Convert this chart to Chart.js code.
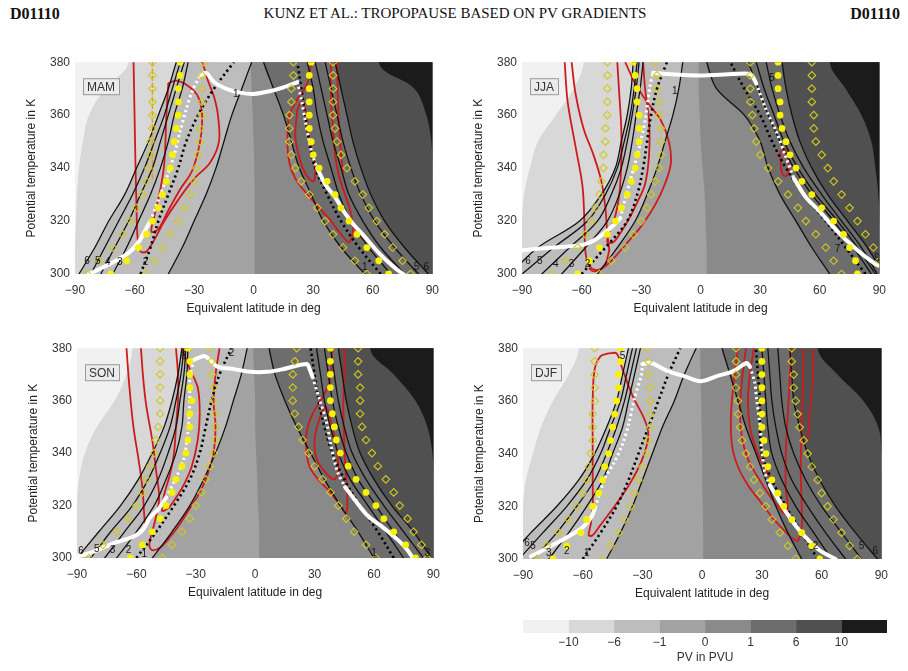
<!DOCTYPE html>
<html><head><meta charset="utf-8">
<script src="https://cdn.jsdelivr.net/npm/chart.js@4.4.1/dist/chart.umd.min.js"></script>
<style>
body{margin:0;background:#fff;}
#page{position:relative;width:908px;height:671px;overflow:hidden;background:#fff;}
canvas{position:absolute;}
.hdr{position:absolute;top:5px;font-family:'Liberation Serif','Times New Roman',serif;color:#111;white-space:nowrap;}
</style></head><body><div id="page">
<div class="hdr" style="left:10px;font-weight:bold;font-size:16px">D01110</div>
<div class="hdr" style="left:0;width:910px;text-align:center;font-size:15px">KUNZ ET AL.: TROPOPAUSE BASED ON PV GRADIENTS</div>
<div class="hdr" style="right:8px;font-weight:bold;font-size:16px">D01110</div>
<canvas id="cMAM" width="428" height="270" style="left:20px;top:50px"></canvas>
<canvas id="cJJA" width="428" height="270" style="left:467px;top:50px"></canvas>
<canvas id="cSON" width="427" height="268" style="left:22px;top:336px"></canvas>
<canvas id="cDJF" width="429" height="269" style="left:468px;top:336px"></canvas>
<canvas id="cBar" width="390" height="61" style="left:510px;top:610px"></canvas>
</div>
<script>
// ---------- shared axes / legend ----------
const thetaLevels = [300,310,320,330,340,350,360,370,380];
const thetaMarks = [300,305,310,315,320,325,330,335,340,345,350,355,360,365,370,375,380];
const latTicks = [-90,-60,-30,0,30,60,90];
const thetaTicks = [300,320,340,360,380];
const pvTickLabels = ['\u221210','\u22126','\u22121','0','1','6','10'];
const pvBandColors = ['#f1f1f1','#d8d8d8','#bdbdbd','#a2a2a2','#8a8a8a','#6d6d6d','#505050','#1b1b1b'];

// ---------- MAM ----------
const mamNeg = [
 [-88,-80,-73,-65,-59,-53,-48,-43,-39],
 [-82,-75,-68,-61,-55,-50,-45,-41,-37],
 [-77,-70,-63,-57,-51,-47,-43,-39,-35],
 [-71,-64,-58,-52,-47,-43,-40,-36,-33],
 [-57,-52,-48,-43,-38,-34,-28,-20,-10],
 [-43,-36,-30,-24,-19,-15,-11,-6,-1]];
const mamPos = [
 [56,44,35,29,23,19,15,10,5],
 [64,53,44,37,31,28,26,24,22],
 [69,58,49,43,39,35,32,30,27],
 [76,64,55,48,44,40,37,34,31],
 [83,71,61,54,49,45,42,39,36],
 [88,76,66,59,54,50,47,44,41]];
const mamEdges = [
 [-90,-90,-89.5,-89,-88,-86,-83,-75,-63],
 [0.5,0.5,0.5,0.5,0.3,0,-0.5,-1,-1.5],
 [90,90,90,90,90,89.5,87,81,63]];
const mamTropSolid = [
 [[-83,300],[-72,304],[-63,308],[-58,312],[-55,316],[-52,320]],
 [[-27,375],[-24,376],[-20,372.5],[-14,370],[-7,368.5],[0,368],[8,369],[15,370.5],[22,372.5]],
 [[32,340],[36,334],[41,329],[46,323],[50,319],[56,314],[63,308],[70,303],[77,299]]];
const mamTropDotted = [
 [[-52,320],[-48,328],[-44,336],[-40,345],[-37,354],[-34,362],[-31,369],[-27,375]],
 [[22,372.5],[24,366],[26,358],[28,350],[30,344],[32,340]]];
const mamDotsS = [-72,-64,-58,-54,-51,-48,-46,-44,-42,-41,-40,-39,-38,-38,-38,-37,-37];
const mamDotsN = [68,63,57,52,48,44,41,37,33,30,29,28,28,28,28,28,29];
const mamDiamonds = [
 [-84,-78,-71,-66,-62,-59,-56,-54,-53,-52,-52,-51,-51,-51,-51,-51,-51],
 [-54,-50,-46,-42,-38,-35,-32,-30,-29,-28,-27,-27,-26,-26,-26,-26,-25],
 [57,51,45,40,36,32,28,24,21,19,18,18,18,19,19,20,20],
 [79,75,70,66,62,58,55,51,47,44,42,41,40,40,40,40,40]];
const mamRed = [
 [[-60.5,380],[-60,360],[-59.5,340],[-59,325],[-58.5,314],[-57,308.5],[-54,308.5],[-50,313],[-45,320],[-38,328],[-30,336],[-22,342],[-17.5,350],[-18,360],[-20,367],[-23,373],[-25,378],[-26,380]],
 [[-43,372],[-44,359],[-45,342],[-47,332],[-50,322],[-51.5,316],[-48,317],[-43,324],[-37,332],[-31,339],[-27,350],[-26,360],[-28,367],[-33,371],[-39,373],[-43,372]],
 [[29,380],[27,372],[22,366],[18,360],[17,350],[18,342],[21,336],[26,331],[33,325],[39,320],[44,315],[48,312],[50,316],[49,323],[46,330],[43,337],[41,345],[40,355],[39,365],[39,380]],
 [[22,362],[21,352],[23,344],[26,338],[30,335],[31,340],[29,347],[27,355],[26,362],[24,365],[22,362]],
 [[42,380],[42.5,365],[43.5,350],[45,338]]];
const mamOrange = [[[-51,380],[-51,336]]];
const mamLabels = [[-84,305,'6'],[-78.5,305,'5'],[-73.5,304.5,'4'],[-67.5,304.5,'3'],[-54.5,304.5,'2'],[-9,368,'1'],[56,302.5,'1'],[82,302.5,'5'],[87,302.5,'6']];

// ---------- JJA ----------
const jjaNeg = [
 [-96,-82,-61,-50,-43,-40,-37,-35,-34],
 [-90,-74,-57,-48,-42,-38.5,-35.5,-33.5,-32],
 [-80,-66,-52,-45,-40,-37,-34.5,-32.5,-31],
 [-70,-58,-47,-41,-37,-34.5,-32.5,-30.5,-29],
 [-60,-48,-37,-32,-29,-27,-25,-22,-17],
 [-52,-42,-33,-27,-22,-18,-14,-11,-9]];
const jjaPos = [
 [65,56,48,40,34,30,22,8,3],
 [83,73,63,52,43,36,30,22,15],
 [86,77,67,56,47,40,34,29,24],
 [88,79,69,58,49,42,37,32,28],
 [89,81,71,61,52,45,40,36,33],
 [92,84,74,64,56,50,46,43,41]];
const jjaEdges = [
 [-90,-90,-90,-89,-86,-82,-73,-64,-59],
 [3,3,2.5,2,1,0,-0.5,-1,-1],
 [90,90,90,89.5,88,86,81,73,65]];
const jjaTropSolid = [
 [[-90,309],[-74,310],[-59.5,311],[-53,313],[-46,317],[-40.5,321]],
 [[-24,376],[-16.5,375.5],[0,375],[16.5,375.5],[25,375.5],[28,372]],
 [[47,336],[53,329],[59.5,324],[69,316],[79,309],[87.5,304],[90,303]]];
const jjaTropDotted = [
 [[-40.5,321],[-36,334],[-31.5,346],[-28,358],[-25.5,371],[-24,376]],
 [[28,372],[33,362],[38,354],[43,344],[47,336]]];
const jjaDotsS = [-62,-56,-51,-47,-43,-40,-37,-35,-33,-32,-31,-31,-31,-32,-32,-33,-34];
const jjaDotsN = [79,78,75,72,67,61,56,51,48,45,43,41,40,40,39,39,39];
const jjaDiamonds = [
 [-75,-68,-62,-58,-55,-53,-51,-50,-49,-49,-48,-48,-47,-47,-47,-47,-47],
 [-51,-45,-38,-34,-30,-27,-25,-23,-21,-20,-20,-20,-21,-21,-22,-22,-23],
 [71,67,63,58,53,49,44,39,34,30,28,27,26,25,25,25,25],
 [92,90,87,83,79,75,71,67,64,61,58,57,57,56,56,56,56]];
const jjaRed = [
 [[-68.5,380],[-67,365],[-63,348],[-59.5,333],[-58.5,318],[-58,308],[-56,303],[-52.5,301.5],[-48.5,303],[-46,309]],
 [[-65,380],[-63,368],[-59,355],[-54,345],[-50,335],[-48,325],[-47,315],[-46,309]],
 [[-42,380],[-41,368],[-40,355],[-40,342],[-41,330],[-43,322],[-46,316],[-47,312],[-44,312],[-40,316],[-36,321],[-32,327],[-28,334],[-26,345],[-26,358],[-28,370],[-29,380]],
 [[-38,380],[-33,372],[-27,365],[-20,358],[-16,350],[-15,342],[-18,334],[-23,326],[-30,318],[-38,311],[-45,305],[-50,302],[-54,301],[-56,302]],
 [[40,346],[43,347],[44.5,340],[43,337],[41,338],[40,346]]];
const jjaOrange = [];
const jjaLabels = [[-87,305,'6'],[-81,305,'5'],[-73,303.5,'4'],[-65,303.5,'3'],[-57,303.5,'2'],[-13,369,'1'],[69,309.5,'7'],[36,374,'5'],[89,306,'9']];

// ---------- SON ----------
const sonNeg = [
 [-90,-79,-68,-59,-52,-46,-42,-39,-37],
 [-83,-73,-62,-54,-48,-43,-40,-37.5,-36],
 [-76,-66,-56,-49,-44,-40,-38,-36,-35],
 [-70,-60,-51,-45,-40,-37,-36,-34.5,-34],
 [-60,-50,-41,-33,-28,-25,-22,-18,-12],
 [-52,-42,-33,-26,-20,-15,-11,-7,-4]];
const sonPos = [
 [60,52,43,35,28,21,15,10,7],
 [70,62,53,45,39,35,32,30,28],
 [75,66,57,48,42,38,35,33,31],
 [80,70,61,52,46,42,39,37,35],
 [85,75,65,56,49,45,42,40,38],
 [89,80,69,60,53,49,46,44,42]];
const sonEdges = [
 [-90,-90,-90,-89,-86,-80,-71,-65,-62],
 [2,2,1.5,1,0.5,0,0,-0.5,-1],
 [90,90,90,90,89.5,87,81,70,58]];
const sonTropSolid = [
 [[-90,300.6],[-83,302],[-72,305.5],[-62,308],[-57,310.5],[-53,315.5],[-48.5,319],[-45,323]],
 [[-31,375.5],[-25.5,377],[-19,373],[-10.5,372],[-2.5,371],[6,371],[14,372],[26,374],[27.5,372],[29,369]],
 [[45.5,327],[50.5,322],[57,316],[64,312],[72,307],[77,303],[80.5,299]]];
const sonTropDotted = [
 [[-45,323],[-40,330.5],[-36,338],[-34,348],[-33,360.5],[-33,369],[-31,375.5]],
 [[29,369],[32.5,360.5],[36,352],[38,344],[41.5,333],[45.5,327]]];
const sonDotsS = [-63,-57,-52,-48,-45,-42,-40,-37,-35,-34,-33,-33,-32,-33,-33,-33,-34];
const sonDotsN = [81,76,70,65,61,56,51,47,43,41,40,39,38,38,38,38,38];
const sonDiamonds = [
 [-84,-77,-70,-64,-60,-57,-55,-53,-51,-50,-49,-48,-48,-48,-48,-48,-48],
 [-47,-42,-37,-33,-30,-27,-25,-23,-21,-20,-20,-20,-21,-21,-22,-22,-23],
 [61,56,50,46,42,38,34,30,27,24,22,20,19,19,19,20,21],
 [87,84,80,77,73,70,66,62,59,56,54,53,53,53,52,52,52]];
const sonRed = [
 [[-65,380],[-63.5,365],[-61.5,350],[-59,338],[-57,327],[-56,316],[-55.5,312]],
 [[-57.7,380],[-56.5,368],[-55,358],[-52,345],[-50,333],[-48.5,323],[-50,316],[-52,310],[-53.5,305],[-52,303],[-48,304],[-43,308],[-38,313],[-33,319],[-28,325],[-24,332],[-21,340],[-20,350],[-21,360],[-20,370],[-18,380]],
 [[-40,380],[-39,370],[-39,360],[-40,350],[-41,340],[-43,332],[-46,324],[-47,318],[-44,319],[-40,323],[-36,328],[-32,335],[-29,345],[-28,355],[-29,365],[-33,372],[-37,380]],
 [[39,380],[38.5,372],[37,366],[33,360],[29,355],[26,348],[26,340],[28,334],[33,329],[38,325],[43,320],[46,317],[46.5,325],[45.5,335],[45,345],[44.5,358],[45,370],[45.5,380]],
 [[35,358],[32,352],[30,345],[31,338],[35,333],[40,330],[42,334],[41,342],[39,350],[37,356],[35,358]]];
const sonOrange = [];
const sonLabels = [[-88,302.5,'6'],[-80,303.5,'5'],[-72,303,'3'],[-64,303,'2'],[-56,301.5,'1'],[-36,377,'6'],[-12,378,'2'],[60,302,'1'],[87,302,'3']];

// ---------- DJF ----------
const djfNeg = [
 [-98,-86,-73,-62,-54,-48,-43,-40,-37],
 [-92,-80,-68,-58,-51,-46,-41,-38,-35],
 [-85,-73,-63,-54,-48,-43,-39,-36,-33],
 [-77,-67,-58,-50,-45,-40,-37,-34,-31],
 [-60,-51,-43,-37,-32,-27,-22,-17,-11],
 [-48,-41,-35,-30,-25,-20,-14,-9,-3]];
const djfPos = [
 [50,43,37,32,27,22,18,14,10],
 [58,50,42,35,30,29,29,28,27],
 [65,56,47,40,35,33,32,31,30],
 [72,62,53,45,40,37,35,34,33],
 [80,70,60,52,46,42,40,39,38],
 [88,77,67,59,53,49,46,45,44]];
const djfEdges = [
 [-90,-90,-90,-88.5,-85,-81,-75,-67,-62],
 [0.5,0.5,0.3,0,0,-0.3,-0.5,-0.8,-1],
 [90,90,90,90,90,88.5,81,68,58]];
const djfTropSolid = [
 [[-86,301],[-78.4,304],[-68.5,308],[-60,312],[-55.6,316],[-53.7,319.6]],
 [[-30,374],[-25.6,374.4],[-17.3,371.3],[-9,369.4],[-0.8,367.5],[7.4,369.4],[15.7,371.3],[22.3,374.4],[24,373]],
 [[34,328],[38,323],[42,318],[48.7,311],[58.6,303.5],[67,300]]];
const djfTropDotted = [
 [[-53.7,319.6],[-51,326],[-48.7,331],[-44.6,336],[-40,343.6],[-37,351],[-34,361],[-30.5,370],[-30,374]],
 [[24,373],[26.4,367],[27.3,361],[29,351],[30,342],[31.4,333],[34,328]]];
const djfDotsS = [-75,-68,-61,-58,-55,-52,-50,-49,-47,-46,-45,-44,-43,-42,-42,-41,-41];
const djfDotsN = [59,55,50,45,41,38,35,33,32,31,30,30,30,30,30,30,30];
const djfDiamonds = [
 [-83,-78,-72,-67,-63,-60,-58,-57,-56,-55,-55,-55,-54,-54,-54,-54,-54],
 [-50,-46,-42,-39,-36,-34,-32,-30,-28,-27,-26,-26,-26,-26,-27,-27,-28],
 [47,43,39,35,32,29,26,24,22,20,19,18,18,17,17,17,17],
 [78,74,70,66,63,60,58,55,53,51,49,48,47,46,46,45,45]];
const djfRed = [
 [[-47,378],[-43,378],[-40,372],[-35,362],[-29,353],[-27,347],[-30,338],[-36,329],[-44,320],[-51,313],[-55,309],[-57,309],[-56,313],[-55,320],[-55,330],[-55,345],[-55,360],[-54,372],[-51,377],[-47,378]],
 [[18,380],[16,368],[14.5,355],[15,343],[18,335],[23,328],[29,322],[35,316],[41,311],[45,308],[48,307],[50,312],[50,320],[49.5,335],[50,350],[50.5,365],[51,380]],
 [[22,380],[20,368],[19,356],[20,346],[23,338],[28,331],[33,325],[38,320],[42,317],[43,320],[42,327],[42,340],[43,355],[44,368],[44.5,380]],
 [[26,380],[24,370],[23,360],[24,350],[27,342],[31,335],[35,330]],
 [[56,380],[55.5,368],[54,355],[53,345]]];
const djfOrange = [];
const djfLabels = [[-88,306,'6'],[-85,305,'5'],[-77,302,'3'],[-68,303,'2'],[-58,302,'1'],[-40,377,'5'],[57,305,'2'],[80,305,'5'],[87,303,'6']];

// ---------- drawing ----------
const FONT = "'Liberation Sans', Arial, sans-serif";
Chart.defaults.font.family = FONT;

function toPts(lats, levels){ return lats.map((x,i)=>({x:x, y:levels[i]})); }
function pairPts(list){ return list.map(p=>({x:p[0], y:p[1]})); }
function minusFmt(v){ return String(v).replace('-', '\u2212'); }

const panelBg = {
  id:'panelBg',
  beforeDatasetsDraw(chart){
    const {ctx, chartArea:a} = chart;
    ctx.save(); ctx.fillStyle = pvBandColors[0];
    ctx.fillRect(a.left, a.top, a.right-a.left, a.bottom-a.top); ctx.restore();
  }
};
const panelText = {
  id:'panelText',
  afterDatasetsDraw(chart, args, opts){
    const {ctx, chartArea:a, scales} = chart;
    ctx.save();
    ctx.beginPath(); ctx.rect(a.left, a.top, a.right-a.left, a.bottom-a.top); ctx.clip();
    ctx.font = '10px ' + FONT; ctx.fillStyle = '#151515';
    ctx.textAlign = 'center'; ctx.textBaseline = 'middle';
    (opts.labels || []).forEach(l=>{
      ctx.fillText(l[2], scales.x.getPixelForValue(l[0]), scales.y.getPixelForValue(l[1]));
    });
    ctx.restore();
    if(!opts.text) return;
    ctx.save();
    ctx.font = '12px ' + FONT;
    const w = ctx.measureText(opts.text).width + 8;
    ctx.fillStyle = '#ebebeb';
    ctx.fillRect(a.left+8, a.top+16, w, 16);
    ctx.strokeStyle = '#9a9a9a'; ctx.lineWidth = 1;
    ctx.strokeRect(a.left+8.5, a.top+16.5, w, 16);
    ctx.fillStyle = '#333'; ctx.textBaseline = 'middle';
    ctx.fillText(opts.text, a.left+12, a.top+25);
    ctx.restore();
  }
};

function lineDs(points, style, order){
  return Object.assign({data:points, showLine:true, pointRadius:0, fill:false, clip:0, order:order, tension:0.35, borderCapStyle:'round'}, style);
}
const sBlack = {borderColor:'#111', borderWidth:1.3};
const sBlackDot = {borderColor:'#000', borderWidth:2.6, borderDash:[2.2,3.2], borderCapStyle:'butt'};
const sRed = {borderColor:'#cf1a1c', borderWidth:1.8};
const sOrange = {borderColor:'#e39a10', borderWidth:1.5, borderDash:[4,3], tension:0};
const sWhite = {borderColor:'#ffffff', borderWidth:4, tension:0.3};
const sWhiteDot = {borderColor:'#ffffff', borderWidth:3.0, borderDash:[2.2,3], borderCapStyle:'butt', tension:0.3};

function buildPanel(id, season, neg, pos, edges, tropSolid, tropDotted, dotsS, dotsN, diamonds, red, orange, labels){
  const ds = [];
  const bandEdges = [edges[0], neg[0], neg[5], edges[1], pos[0], pos[5], edges[2]];
  bandEdges.forEach((lats,k)=>{
    const pts = toPts(lats, thetaLevels);
    const n = lats.length;
    pts.push({x:lats[n-1], y:425},{x:220, y:425},{x:220, y:255},{x:lats[0], y:255});
    ds.push({data:pts, showLine:true, fill:'shape', backgroundColor:pvBandColors[k+1], borderColor:'rgba(0,0,0,0)', borderWidth:0, pointRadius:0, tension:0.35, clip:0, order:100-k});
  });
  red.forEach(r=>ds.push(lineDs(pairPts(r), sRed, 50)));
  orange.forEach(r=>ds.push(lineDs(pairPts(r), sOrange, 49)));
  neg.forEach((lats,i)=>ds.push(lineDs(toPts(lats, thetaLevels), i===4 ? sBlackDot : sBlack, 40)));
  pos.forEach((lats,i)=>ds.push(lineDs(toPts(lats, thetaLevels), i===1 ? sBlackDot : sBlack, 40)));
  tropSolid.forEach(r=>ds.push(lineDs(pairPts(r), sWhite, 30)));
  tropDotted.forEach(r=>ds.push(lineDs(pairPts(r), sWhiteDot, 31)));
  diamonds.forEach(d=>ds.push({data:toPts(d, thetaMarks), showLine:false, pointStyle:'rectRot', pointRadius:3.8, pointBackgroundColor:'rgba(0,0,0,0)', pointBorderColor:'#d2c920', pointBorderWidth:1.1, clip:0, order:20}));
  [dotsS, dotsN].forEach(d=>ds.push({data:toPts(d, thetaMarks), showLine:false, pointStyle:'circle', pointRadius:3.4, pointBackgroundColor:'#f6f200', pointBorderWidth:0, clip:0, order:10}));

  new Chart(document.getElementById(id), {
    type:'line',
    data:{datasets:ds},
    plugins:[panelBg, panelText],
    options:{
      responsive:false, animation:false, devicePixelRatio:1, events:[],
      layout:{padding:{left:0,right:10,top:9,bottom:0}},
      elements:{line:{capBezierPoints:false}, point:{radius:0}},
      plugins:{legend:{display:false}, tooltip:{enabled:false}, panelText:{text:season, labels:labels}},
      scales:{
        x:{type:'linear', min:-90, max:90,
           afterBuildTicks:s=>{ s.ticks = latTicks.map(v=>({value:v})); },
           afterFit:s=>{ s.height = 46; },
           ticks:{font:{size:12}, color:'#333', padding:9, callback:minusFmt, maxRotation:0},
           grid:{display:false, drawTicks:false}, border:{display:false},
           title:{display:true, text:'Equivalent latitude in deg', font:{size:12}, color:'#222', padding:{top:0,bottom:4}}},
        y:{type:'linear', min:300, max:380,
           afterBuildTicks:s=>{ s.ticks = thetaTicks.map(v=>({value:v})); },
           afterFit:s=>{ s.width = 55; },
           ticks:{font:{size:12}, color:'#333', padding:5},
           grid:{display:false, drawTicks:false}, border:{display:false},
           title:{display:true, text:'Potential temperature in K', font:{size:12}, color:'#222', padding:{top:4,bottom:0}}}
      }
    }
  });
}

buildPanel('cMAM','MAM', mamNeg, mamPos, mamEdges, mamTropSolid, mamTropDotted, mamDotsS, mamDotsN, mamDiamonds, mamRed, mamOrange, mamLabels);
buildPanel('cJJA','JJA', jjaNeg, jjaPos, jjaEdges, jjaTropSolid, jjaTropDotted, jjaDotsS, jjaDotsN, jjaDiamonds, jjaRed, jjaOrange, jjaLabels);
buildPanel('cSON','SON', sonNeg, sonPos, sonEdges, sonTropSolid, sonTropDotted, sonDotsS, sonDotsN, sonDiamonds, sonRed, sonOrange, sonLabels);
buildPanel('cDJF','DJF', djfNeg, djfPos, djfEdges, djfTropSolid, djfTropDotted, djfDotsS, djfDotsN, djfDiamonds, djfRed, djfOrange, djfLabels);

// ---------- colour bar ----------
new Chart(document.getElementById('cBar'), {
  type:'bar',
  data:{labels:['PV'], datasets:pvBandColors.map(c=>({data:[1], backgroundColor:c, borderWidth:0, barPercentage:1, categoryPercentage:1}))},
  options:{
    indexAxis:'y', responsive:false, animation:false, devicePixelRatio:1, events:[],
    layout:{padding:{left:13,right:13,top:10,bottom:0}},
    plugins:{legend:{display:false}, tooltip:{enabled:false}},
    scales:{
      x:{type:'linear', stacked:true, min:0, max:8,
         afterBuildTicks:s=>{ s.ticks = pvTickLabels.map((t,i)=>({value:i+1})); },
         afterFit:s=>{ s.height = 38; },
         ticks:{font:{size:12}, color:'#333', padding:2, callback:(v)=>pvTickLabels[v-1]},
         grid:{display:false, drawTicks:false}, border:{display:false},
         title:{display:true, text:'PV in PVU', font:{size:12}, color:'#333', padding:{top:0,bottom:6}}},
      y:{stacked:true, display:false}
    }
  }
});
</script>
</body></html>
